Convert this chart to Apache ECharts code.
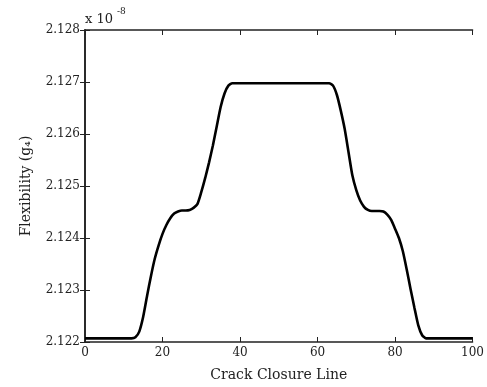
<!DOCTYPE html>
<html>
<head>
<meta charset="utf-8">
<script src="https://cdn.jsdelivr.net/npm/echarts@6/dist/echarts.min.js"></script>
<style>
  html, body { margin: 0; padding: 0; background: #fff; }
  #chart { width: 487px; height: 387px; }
</style>
</head>
<body>
<div id="chart"></div>
<script>
// Crack closure line positions (0..100)
const positions = [];
for (let i = 0; i <= 100; i++) positions.push(i);

// Flexibility g4, in units of 1e-8
const flexibility = [
  2.12207, 2.12207, 2.12207, 2.12207, 2.12207, 2.12207, 2.12207, 2.12207, 2.12207, 2.12207,
  2.12207, 2.12207, 2.12207, 2.12209, 2.12220, 2.12248, 2.12288, 2.12326, 2.12360, 2.12386,
  2.12408, 2.12425, 2.12438, 2.12447, 2.12451, 2.12453, 2.12453, 2.12454, 2.12458, 2.12465,
  2.12488, 2.12515, 2.12545, 2.12578, 2.12615, 2.12652, 2.12678, 2.12693, 2.126975, 2.126975,
  2.126975, 2.126975, 2.126975, 2.126975, 2.126975, 2.126975, 2.126975, 2.126975, 2.126975, 2.126975,
  2.126975, 2.126975, 2.126975, 2.126975, 2.126975, 2.126975, 2.126975, 2.126975, 2.126975, 2.126975,
  2.126975, 2.126975, 2.126975, 2.126975, 2.12693, 2.12675, 2.12645, 2.12610, 2.12565, 2.12520,
  2.12492, 2.12472, 2.12460, 2.12454, 2.12452, 2.12452, 2.12452, 2.12451, 2.12445, 2.12435,
  2.12418, 2.12400, 2.12375, 2.12340, 2.12302, 2.12266, 2.12232, 2.12213, 2.12207, 2.12207,
  2.12207, 2.12207, 2.12207, 2.12207, 2.12207, 2.12207, 2.12207, 2.12207, 2.12207, 2.12207,
  2.12207
];

const xTicks = [0, 20, 40, 60, 80, 100];
const yTicks = [2.122, 2.123, 2.124, 2.125, 2.126, 2.127, 2.128];

const seriesData = positions.map((x, i) => [x, flexibility[i]]);

const FONT = 'DejaVu Serif';
const INK = '#222';

const chart = echarts.init(document.getElementById('chart'), null, { renderer: 'canvas' });

const frameLine = { show: true, lineStyle: { color: INK, width: 1.6 } };
const innerTick = { show: true, inside: true, length: 5, lineStyle: { color: INK, width: 1 } };

chart.setOption({
  animation: false,
  backgroundColor: '#fff',
  grid: { left: 85, right: 14, top: 30, bottom: 44, containLabel: false },
  xAxis: [
    {
      type: 'value', min: xTicks[0], max: xTicks[xTicks.length - 1], interval: 20,
      axisLine: frameLine, axisTick: innerTick, splitLine: { show: false },
      axisLabel: { color: INK, fontFamily: FONT, fontSize: 12, margin: 5 },
      name: 'Crack Closure Line', nameLocation: 'middle', nameGap: 26,
      nameTextStyle: { color: INK, fontFamily: FONT, fontSize: 14 }
    },
    {
      type: 'value', position: 'top', min: xTicks[0], max: xTicks[xTicks.length - 1], interval: 20,
      axisLine: frameLine, axisTick: innerTick, axisLabel: { show: false }, splitLine: { show: false }
    }
  ],
  yAxis: [
    {
      type: 'value', min: yTicks[0], max: yTicks[yTicks.length - 1], interval: 0.001,
      axisLine: frameLine, axisTick: innerTick, splitLine: { show: false },
      axisLabel: { color: INK, fontFamily: FONT, fontSize: 12, margin: 5,
        formatter: v => v.toFixed(3) },
      name: 'Flexibility (g\u2084)', nameLocation: 'middle', nameGap: 52, nameRotate: 90,
      nameTextStyle: { color: INK, fontFamily: FONT, fontSize: 14 }
    },
    {
      type: 'value', position: 'right', min: yTicks[0], max: yTicks[yTicks.length - 1], interval: 0.001,
      axisLine: frameLine, axisTick: innerTick, axisLabel: { show: false }, splitLine: { show: false }
    }
  ],
  graphic: [
    { type: 'text', left: 85, top: 13,
      style: { text: 'x 10', fill: INK, font: '13px "DejaVu Serif"' } },
    { type: 'text', left: 117, top: 7,
      style: { text: '-8', fill: INK, font: '9px "DejaVu Serif"' } }
  ],
  series: [
    {
      type: 'line', data: seriesData, showSymbol: false, smooth: 0.2,
      lineStyle: { color: '#000', width: 2.6 },
      clip: true
    }
  ]
});
</script>
</body>
</html>
